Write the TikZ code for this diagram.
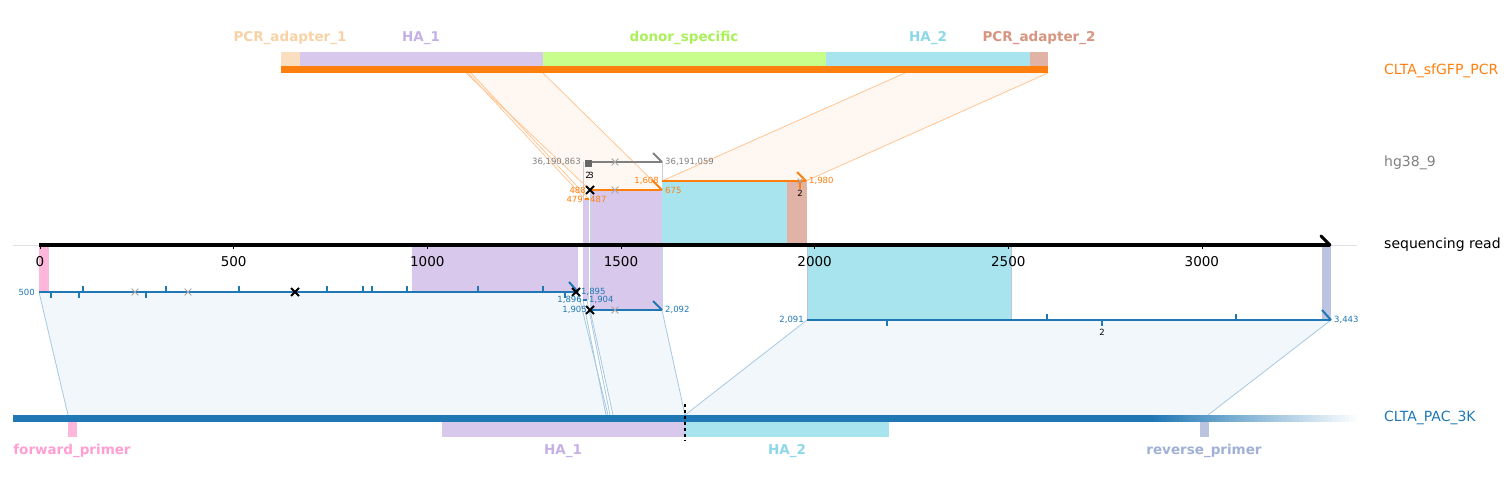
\documentclass[tikz,border=0pt]{standalone}
\usepackage{fontspec}
\setmainfont{DejaVu Sans}
\usetikzlibrary{calc, shapes.misc}
\definecolor{pacblue}{RGB}{31,119,180}
\definecolor{pcrorange}{RGB}{255,127,14}
\definecolor{hggray}{RGB}{128,128,128}
\definecolor{adaponefill}{RGB}{250,222,192}
\definecolor{adaponetxt}{RGB}{248,210,165}
\definecolor{hafill}{RGB}{216,200,235}
\definecolor{hatxt}{RGB}{197,176,230}
\definecolor{donorfill}{RGB}{200,255,140}
\definecolor{donortxt}{RGB}{170,240,90}
\definecolor{hbfill}{RGB}{168,228,238}
\definecolor{hbtxt}{RGB}{140,216,232}
\definecolor{adaptwofill}{RGB}{225,178,166}
\definecolor{adaptwotxt}{RGB}{215,148,128}
\definecolor{fwdfill}{RGB}{255,182,219}
\definecolor{fwdtxt}{RGB}{255,158,210}
\definecolor{revfill}{RGB}{186,196,224}
\definecolor{revtxt}{RGB}{160,176,214}

\begin{document}
\begin{tikzpicture}[
    x=1pt, y=-1pt,
    lbl/.style={anchor=west, inner sep=0pt, font=\fontsize{14}{16}\selectfont},
    feat/.style={inner sep=0pt, font=\bfseries\fontsize{13.5}{15}\selectfont},
    num/.style={inner sep=1pt, font=\fontsize{8.5}{10}\selectfont},
    aln/.style={line width=2pt},
    xbig/.style={cross out, draw=black, line width=2pt, minimum size=6pt, inner sep=0pt},
    xsmall/.style={cross out, draw=hggray!70, line width=0.8pt, minimum size=6pt, inner sep=0pt},
]

\path[use as bounding box] (0,0) rectangle (1510,489);

% ════════════════════════════════════════════════════════
% 0. SHADED ALIGNMENT BANDS
% ════════════════════════════════════════════════════════
% donor -> read
\fill[pcrorange, fill opacity=0.06] (466,73) -- (543,73) -- (662,190) -- (590,190) -- cycle;
\fill[pcrorange, fill opacity=0.06] (905,73) -- (1048,73) -- (806,181) -- (662,181) -- cycle;
\draw[pcrorange!45, line width=0.8pt] (466,73) -- (590,190);
\draw[pcrorange!45, line width=0.8pt] (543,73) -- (662,190);
\draw[pcrorange!45, line width=0.8pt] (468,73) -- (585,199);
\draw[pcrorange!45, line width=0.8pt] (471,73) -- (589,199);
\draw[pcrorange!45, line width=0.8pt] (905,73) -- (662,181);
\draw[pcrorange!45, line width=0.8pt] (1048,73) -- (806,181);

% read -> CLTA_PAC_3K
\fill[pacblue, fill opacity=0.06] (39,292) -- (578,292) -- (608,415) -- (68,415) -- cycle;
\fill[pacblue, fill opacity=0.06] (590,310) -- (662,310) -- (685,415) -- (613,415) -- cycle;
\fill[pacblue, fill opacity=0.06] (807,320) -- (1331,320) -- (1208,415) -- (685,415) -- cycle;
\foreach \a/\ya/\b in {39/292/68, 578/292/608, 583/300/606, 587/300/610, 590/310/613, 662/310/685}{
    \draw[pacblue!40, line width=0.8pt] (\a,\ya) -- (\b,415);
}
\draw[pacblue!40, line width=0.8pt] (807,320) -- (685,415);
\draw[pacblue!40, line width=0.8pt] (1331,320) -- (1208,415);

% ════════════════════════════════════════════════════════
% 1. FEATURE BLOCKS ON THE READ
% ════════════════════════════════════════════════════════
\draw[hggray!40, line width=0.6pt] (583,162) -- (583,245);
\draw[hggray!40, line width=0.6pt] (662,162) -- (662,245);
\fill[fwdfill] (39,245) rectangle (49,292);
\fill[hafill] (412,245) rectangle (578,292);
\fill[hafill, draw=pacblue!30] (590,190) rectangle (662,310);
\fill[hafill] (583,199) rectangle (589,300);
\fill[hbfill] (662,181) rectangle (787,245);
\fill[adaptwofill] (787,181) rectangle (807,245);
\fill[hbfill, draw=revfill] (807,245) rectangle (1011,320);
\fill[revfill] (1322,245) rectangle (1331,320);

% ════════════════════════════════════════════════════════
% 2. SEQUENCING READ AXIS
% ════════════════════════════════════════════════════════
\draw[black!12, line width=0.6pt] (13,245) -- (1357,245);
\draw[black, line width=4pt] (39,245) -- (1330,245);
\draw[black, line width=3pt, line cap=round] (1321,236) -- (1330,245);
\foreach \t in {0,500,...,3000}{
    \draw[black, line width=0.8pt] ({40+\t*0.3873},245) -- ({40+\t*0.3873},249);
    \node[font=\fontsize{13.5}{15}\selectfont, inner sep=0pt] (tk\t) at ({40+\t*0.3873},262) {\t};
}
\node[lbl, text=black] (readLbl) at (1384,245) {sequencing read};

% ════════════════════════════════════════════════════════
% 3. TOP: CLTA_sfGFP_PCR DONOR
% ════════════════════════════════════════════════════════
\fill[adaponefill] (281,52) rectangle (300,66);
\fill[hafill] (300,52) rectangle (543,66);
\fill[donorfill] (543,52) rectangle (826,66);
\fill[hbfill] (826,52) rectangle (1030,66);
\fill[adaptwofill] (1030,52) rectangle (1048,66);
\fill[pcrorange] (281,66) rectangle (1048,73);

\node[feat, text=adaponetxt] (adaponeLbl) at (290,38) {PCR\_adapter\_1};
\node[feat, text=hatxt] (haoneLbl) at (421,38) {HA\_1};
\node[feat, text=donortxt] (donorLbl) at (684,38) {donor\_specific};
\node[feat, text=hbtxt] (hatwoLbl) at (928,38) {HA\_2};
\node[feat, text=adaptwotxt] (adaptwoLbl) at (1039,38) {PCR\_adapter\_2};
\node[lbl, text=pcrorange] (pcrLbl) at (1384,71) {CLTA\_sfGFP\_PCR};

% orange alignments
\draw[pcrorange, aln] (662,181) -- (806,181);
\draw[pcrorange, aln] (797,172) -- (806,181);
\draw[pcrorange, line width=1.5pt] (800,181) -- (800,189);
\node[xsmall, minimum size=4pt] at (800,181) {};
\node[num, black] at (800,193) {2};
\node[num, text=pcrorange, anchor=east] at (660,181) {1,608};
\node[num, text=pcrorange, anchor=west] at (808,181) {1,980};

\draw[pcrorange, aln] (590,190) -- (662,190);
\draw[pcrorange, aln] (652,180) -- (662,190);
\node[xsmall] at (615,190) {};
\node[xbig] at (590,190) {};
\node[num, text=pcrorange, anchor=east] at (587,190) {488};
\node[num, text=pcrorange, anchor=west] at (664,190) {675};

\draw[pcrorange, line width=1.5pt] (585,199) -- (589,199);
\node[num, text=pcrorange, anchor=east] at (584,199) {479};
\node[num, text=pcrorange, anchor=west] at (589,199) {487};

% ════════════════════════════════════════════════════════
% 4. hg38_9 ALIGNMENT
% ════════════════════════════════════════════════════════
\draw[hggray, aln] (585,162) -- (662,162);
\draw[hggray, aln] (653,153) -- (662,162);
\fill[hggray!80!black] (585,160) rectangle (592,167);
\node[xsmall] at (615,162) {};
\node[num, text=hggray, anchor=east] at (582,162) {36,190,863};
\node[num, text=hggray, anchor=west] at (664,162) {36,191,059};
\node[num, black] at (588,175) {2};
\node[num, black] at (591,175) {3};
\node[lbl, text=hggray] (hgLbl) at (1384,163) {hg38\_9};

% ════════════════════════════════════════════════════════
% 5. CLTA_PAC_3K ALIGNMENTS
% ════════════════════════════════════════════════════════
\draw[pacblue, aln] (39,292) -- (578,292);
\draw[pacblue, aln] (569,282) -- (578,292);
\foreach \tx in {83,166,239,327,363,372,407,478,543}{
    \draw[pacblue, line width=1.5pt] (\tx,292) -- (\tx,286);
}
\foreach \tx in {51,79,146,565}{
    \draw[pacblue, line width=1.5pt] (\tx,292) -- (\tx,298);
}
\node[xsmall] at (135,292) {};
\node[xsmall] at (188,292) {};
\node[xbig] at (295,292) {};
\node[xbig] at (576,292) {};
\node[num, text=pacblue, anchor=east] at (36,292) {500};
\node[num, text=pacblue, anchor=west] at (580,292) {1,895};

\draw[pacblue, line width=1.5pt] (583,300) -- (587,300);
\node[num, text=pacblue, anchor=east] at (583,300) {1,896};
\node[num, text=pacblue, anchor=west] at (588,300) {1,904};

\draw[pacblue, aln] (590,310) -- (662,310);
\draw[pacblue, aln] (653,301) -- (662,310);
\node[xsmall] at (615,310) {};
\node[xbig] at (590,310) {};
\node[num, text=pacblue, anchor=east] at (588,310) {1,905};
\node[num, text=pacblue, anchor=west] at (664,310) {2,092};

\draw[pacblue, aln] (807,320) -- (1331,320);
\draw[pacblue, aln] (1322,310) -- (1331,320);
\foreach \tx in {1047,1236}{
    \draw[pacblue, line width=1.5pt] (\tx,320) -- (\tx,314);
}
\foreach \tx in {887,1102}{
    \draw[pacblue, line width=1.5pt] (\tx,320) -- (\tx,326);
}
\node[num, black] at (1102,332) {2};
\node[num, text=pacblue, anchor=east] at (805,320) {2,091};
\node[num, text=pacblue, anchor=west] at (1333,320) {3,443};

% ════════════════════════════════════════════════════════
% 6. BOTTOM: CLTA_PAC_3K REFERENCE
% ════════════════════════════════════════════════════════
\fill[pacblue] (13,415) rectangle (1150,422);
% fade-out of the reference bar
\foreach \i in {0,...,49}{
    \fill[pacblue!\the\numexpr100-2*\i\relax!white]
        ({1150+\i*4.14},415) rectangle ({1150+(\i+1)*4.14+0.3},422);
}
\fill[fwdfill] (68,422) rectangle (77,437);
\fill[hafill] (442,422) rectangle (685,437);
\fill[hbfill] (685,422) rectangle (889,437);
\fill[revfill] (1200,422) rectangle (1209,437);
\draw[black, dashed, line width=1.2pt] (685,404) -- (685,441);

\node[feat, text=fwdtxt] (fwdLbl) at (72,451) {forward\_primer};
\node[feat, text=hatxt] (habotLbl) at (563,451) {HA\_1};
\node[feat, text=hbtxt] (hbbotLbl) at (787,451) {HA\_2};
\node[feat, text=revtxt] (revLbl) at (1204,451) {reverse\_primer};
\node[lbl, text=pacblue] (pacLbl) at (1384,418) {CLTA\_PAC\_3K};

\end{tikzpicture}
\end{document}
